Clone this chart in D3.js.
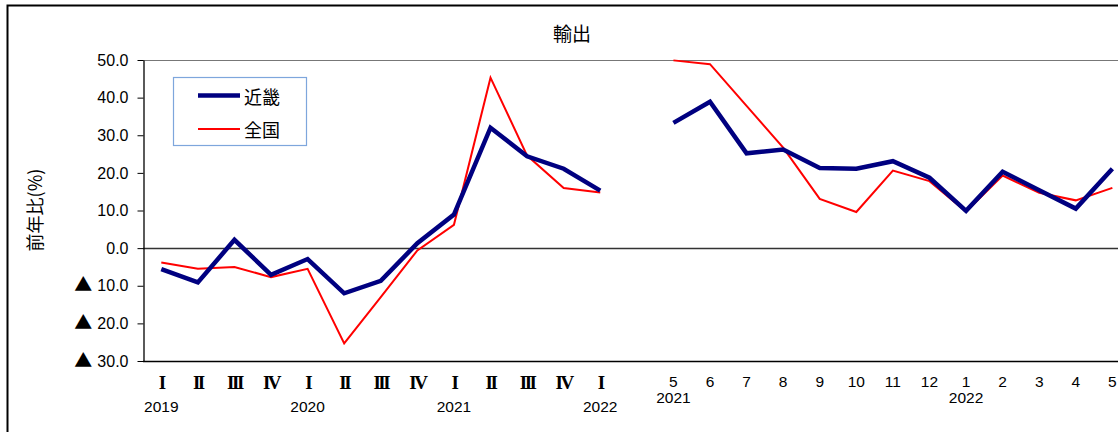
<!DOCTYPE html>
<html><head><meta charset="utf-8">
<script src="https://cdn.jsdelivr.net/npm/d3@7"></script>
<style>
html,body{margin:0;padding:0;background:#fff;overflow:hidden}
text{fill:#000}
</style></head>
<body>
<svg id="c" width="1118" height="432"></svg>
<script>
// ---- data ----
const xLabels = ['Ⅰ','Ⅱ','Ⅲ','Ⅳ','Ⅰ','Ⅱ','Ⅲ','Ⅳ','Ⅰ','Ⅱ','Ⅲ','Ⅳ','Ⅰ','','5','6','7','8','9','10','11','12','1','2','3','4','5'];
const yearLabels = ['2019','','','','2020','','','','2021','','','','2022','','2021','','','','','','','','2022','','','',''];
const kinki   = [-5.6,-9.1,2.2,-7.1,-2.9,-12.0,-8.7,1.3,8.9,32.0,24.4,21.1,15.3,null,33.3,38.9,25.2,26.2,21.3,21.1,23.1,18.7,9.9,20.3,15.4,10.5,21.1];
const zenkoku = [-3.8,-5.5,-5.0,-7.7,-5.5,-25.3,-13.0,-0.6,6.2,45.3,24.6,16.0,14.8,null,49.9,48.9,37.8,26.7,13.1,9.6,20.6,17.8,9.7,19.3,14.7,12.7,16.0];
const yTicks = [50,40,30,20,10,0,-10,-20,-30];
const seriesNames = ['近畿','全国'];
const chartTitle = '輸出';
const yTitle = '前年比(%)';

// ---- layout ----
const W = 1118, H = 432;
const pLeft = 143, pTop = 60, pBottom = 361, step = 36.58;
const svg = d3.select('#c');
const jp = '"Noto Sans CJK JP", sans-serif';
const num = '"Liberation Sans", Arial, sans-serif';

// outer frame
svg.append('path').attr('d', `M7.5,${H} V5.5 H${W}`).attr('fill','none').attr('stroke','#000').attr('stroke-width',2);

const x = d3.scaleBand().domain(d3.range(xLabels.length)).range([pLeft, pLeft + step*xLabels.length]);
const cx = i => x(i) + x.bandwidth()/2;
const y = d3.scaleLinear().domain([-30,50]).range([pBottom, pTop]);

// top border of plot
svg.append('line').attr('x1',pLeft).attr('x2',W).attr('y1',pTop+0.5).attr('y2',pTop+0.5).attr('stroke','#777').attr('stroke-width',1.2);
// zero line
svg.append('line').attr('x1',pLeft).attr('x2',W).attr('y1',Math.round(y(0))+0.5).attr('y2',Math.round(y(0))+0.5).attr('stroke','#333').attr('stroke-width',1.3);

// y axis
const ya = svg.append('g').attr('transform',`translate(${pLeft+0.5},0)`)
  .call(d3.axisLeft(y).tickValues(yTicks).tickSize(6).tickSizeOuter(0).tickPadding(9).tickFormat(v=>Math.abs(v).toFixed(1)));
ya.select('.domain').attr('stroke','#000').attr('stroke-width',1.3);
ya.selectAll('.tick line').attr('stroke','#000');
ya.selectAll('.tick text').attr('font-family', num).attr('font-size',16).attr('fill','#000')
  .each(function(d){
    if (d < 0) {
      const t = d3.select(this); const s = Math.abs(d).toFixed(1);
      t.text('');
      t.append('tspan').attr('font-family',jp).attr('font-size',18).text('▲');
      t.append('tspan').attr('dx',5).text(s);
    }
  });

// x axis (bottom line)
const xa = svg.append('g').attr('transform',`translate(0,${pBottom+0.5})`)
  .call(d3.axisBottom(x).tickSize(0).tickFormat(''));
xa.select('.domain').attr('stroke','#000').attr('stroke-width',1.5).attr('d',`M${pLeft},0H${W}`);

// x labels
const roman = t => /[ⅠⅡⅢⅣ]/.test(t);
const romanMap = {'Ⅰ':'I','Ⅱ':'II','Ⅲ':'III','Ⅳ':'IV'};
svg.append('g').selectAll('text').data(xLabels).join('text')
  .attr('x',(d,i)=>cx(i)).attr('y',(d)=>roman(d)?388.5:387).attr('text-anchor','middle')
  .attr('font-family',d=>roman(d)?'"Liberation Serif", serif':num)
  .attr('font-weight',d=>roman(d)?'bold':'normal')
  .attr('letter-spacing',d=>roman(d)?-2.5:0)
  .attr('font-size',d=>roman(d)?19:15.5)
  .text(d=>roman(d)?romanMap[d]:d);
svg.append('g').selectAll('text').data(yearLabels).join('text')
  .attr('x',(d,i)=>cx(i)).attr('y',(d,i)=> i<13 ? 412 : 403).attr('text-anchor','middle')
  .attr('font-family',num).attr('font-size',15.5)
  .text(d=>d);

// lines
const line = d3.line().defined(d=>d!=null).x((d,i)=>cx(i)).y(d=>y(d));
svg.append('path').datum(zenkoku).attr('d',line).attr('fill','none').attr('stroke','#ff0000').attr('stroke-width',2).attr('stroke-linejoin','miter');
svg.append('path').datum(kinki).attr('d',line).attr('fill','none').attr('stroke','#000080').attr('stroke-width',4.5).attr('stroke-linejoin','miter');

// legend
const lg = svg.append('g');
lg.append('rect').attr('x',173.5).attr('y',77.5).attr('width',133).attr('height',68).attr('fill','#fff').attr('stroke','#7ea6dc').attr('stroke-width',1.2);
const legendItems = [{name:seriesNames[0], color:'#000080', w:4.5, yy:95.5},{name:seriesNames[1], color:'#ff0000', w:2, yy:129}];
legendItems.forEach(it=>{
  lg.append('line').attr('x1',198).attr('x2',240).attr('y1',it.yy).attr('y2',it.yy).attr('stroke',it.color).attr('stroke-width',it.w);
  lg.append('text').attr('x',244).attr('y',it.yy).attr('dominant-baseline','central').attr('font-family',jp).attr('font-size',18).text(it.name);
});

// titles
svg.append('text').attr('x',572).attr('y',32).attr('text-anchor','middle').attr('dominant-baseline','central').attr('font-family',jp).attr('font-size',19).text(chartTitle);
svg.append('text').attr('transform','translate(34,210) rotate(-90)').attr('text-anchor','middle').attr('dominant-baseline','central').attr('font-family',jp).attr('font-size',18).text(yTitle);
</script>
</body></html>
